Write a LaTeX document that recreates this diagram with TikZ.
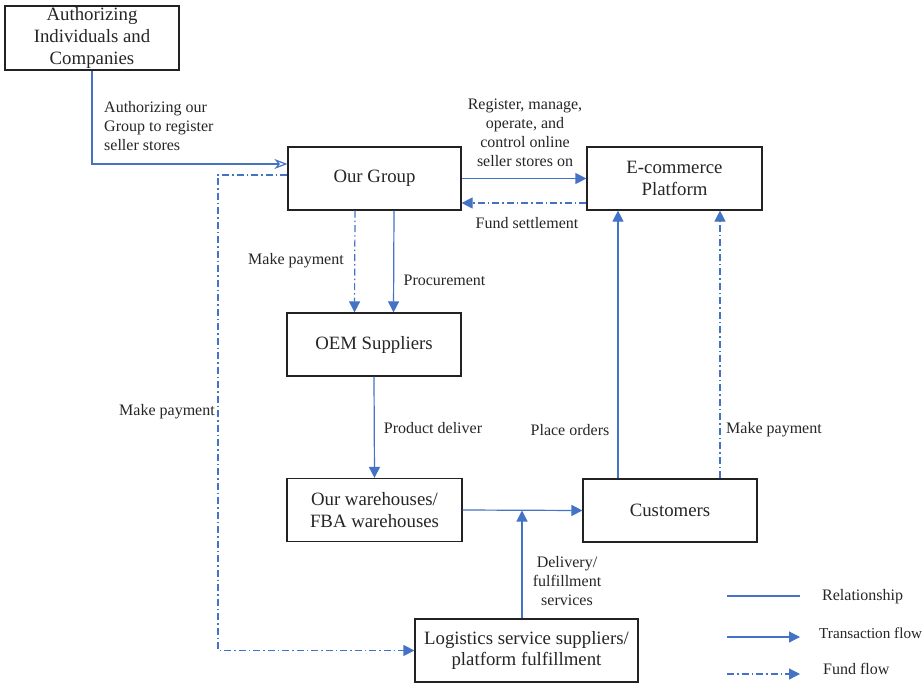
\documentclass[tikz,border=0pt]{standalone}
\usepackage{fontspec}
\setmainfont{Liberation Serif}
\usetikzlibrary{arrows.meta}
\definecolor{lblue}{HTML}{4472C4}
\definecolor{boxline}{HTML}{222222}
\begin{document}
\begin{tikzpicture}[x=1pt,y=-1pt,
  box/.style={draw=boxline,line width=1.2pt,rectangle,align=center,inner sep=0pt,
    font=\fontsize{18.8}{21.7}\selectfont,text=black!85},
  lbl/.style={font=\fontsize{16}{19}\selectfont,text=black!85,inner sep=0pt},
  rel/.style={draw=lblue,line width=1.2pt},
  trans/.style={rel,-{Triangle[length=11pt,width=11pt]}},
  fund/.style={rel,dash pattern=on 7pt off 3pt on 1.5pt off 3pt,-{Triangle[length=11pt,width=11pt]}},
  auth/.style={rel,-{Stealth[open,length=13pt,width=10pt,inset=4pt]}}
]
\useasboundingbox (0,0) rectangle (924,683);
\fill[white] (0,0) rectangle (924,683);

% boxes
\node[box,minimum width=174pt,minimum height=64pt] (au) at (92,38) {Authorizing\\Individuals and\\Companies};
\node[box,minimum width=173pt,minimum height=63pt] (og) at (374.5,178.5) {Our Group};
\node[box,minimum width=175pt,minimum height=63pt] (ec) at (674.5,178.5) {E-commerce\\Platform};
\node[box,minimum width=174pt,minimum height=63pt] (oem) at (374,344.5) {OEM Suppliers};
\node[box,minimum width=175pt,minimum height=63pt] (wh) at (374.5,510) {Our warehouses/\\FBA warehouses};
\node[box,minimum width=174pt,minimum height=63pt] (cu) at (670,510.5) {Customers};
\node[box,minimum width=223pt,minimum height=63pt] (lg) at (526.5,650.5) {Logistics service suppliers/\\platform fulfillment};

% connectors
\draw[auth] (au.south) |- ([yshift=14.5pt]og.west);
\coordinate (lt) at (218,175);
\draw[fund] ([yshift=3.5pt]og.west) -- (lt) -- (lt |- lg.west) -- (lg.west);
\draw[trans] (og.east) -- (ec.west);
\draw[fund] ([yshift=-24.5pt]ec.west) -- ([yshift=-24.5pt]og.east);
\draw[fund] ([xshift=-19.5pt]og.south) -- ([xshift=-19.5pt]oem.north);
\draw[trans] ([xshift=19.5pt]og.south) -- ([xshift=19.5pt]oem.north);
\draw[trans] (oem.south) -- (wh.north);
\draw[trans] (wh.east) -- (cu.west);
\coordinate (jn) at (522,510.5);
\draw[trans] (lg.north -| jn) -- (jn);
\draw[trans] ([xshift=-52pt]cu.north) -- ([xshift=-52pt]cu.north |- ec.south);
\draw[fund] ([xshift=50pt]cu.north) -- ([xshift=50pt]cu.north |- ec.south);

% labels
\node[lbl,anchor=west,align=left] (l1) at (104,126) {Authorizing our\\Group to register\\seller stores};
\node[lbl,align=center] (l2) at (525,132.5) {Register, manage,\\operate, and\\control online\\seller stores on};
\node[lbl] (l3) at (527,223) {Fund settlement};
\node[lbl] (l4) at (296,261) {Make payment};
\node[lbl] (l5) at (444.5,280) {Procurement};
\node[lbl] (l6) at (167,412) {Make payment};
\node[lbl] (l7) at (433,428) {Product deliver};
\node[lbl] (l8) at (570,430) {Place orders};
\node[lbl] (l9) at (774,430) {Make payment};
\node[lbl,align=center] (l10) at (567,581) {Delivery/\\fulfillment\\services};

% legend
\coordinate (a1) at (727,596); \coordinate (b1) at (800,596);
\coordinate (a2) at (727,637); \coordinate (b2) at (800,637);
\coordinate (a3) at (727,674); \coordinate (b3) at (800,674);
\draw[rel] (a1) -- (b1);
\draw[trans] (a2) -- (b2);
\draw[fund] (a3) -- (b3);
\node[lbl,anchor=west] (t1) at (822,597) {Relationship};
\node[lbl,anchor=west,font=\fontsize{15.2}{18}\selectfont] (t2) at (819,633) {Transaction flow};
\node[lbl,anchor=west] (t3) at (823,669) {Fund flow};
\end{tikzpicture}
\end{document}
